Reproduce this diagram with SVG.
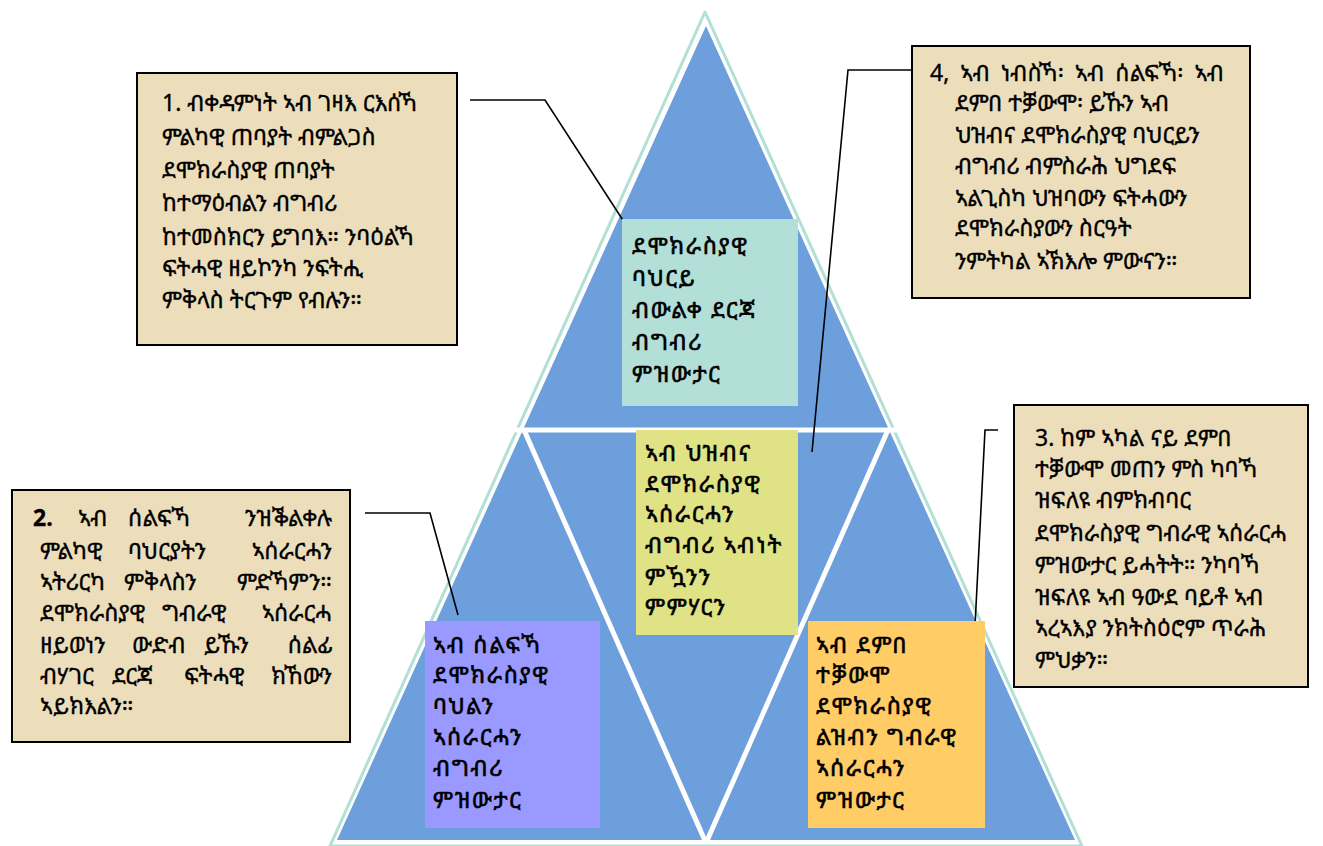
<svg xmlns="http://www.w3.org/2000/svg" width="1323" height="846" viewBox="0 0 1323 846">
<style>
.t{font-family:"Noto Sans Ethiopic","Abyssinica SIL","DejaVu Sans","Noto Sans",sans-serif;font-size:23px;fill:#000;stroke:#000;stroke-width:0.35}
.c{font-size:23px;letter-spacing:1.6px;stroke-width:0.6}
.note{fill:#ecdebb;stroke:#000;stroke-width:2}
.wl{stroke:#fff;stroke-width:5;fill:none}
.con{stroke:#000;stroke-width:1.6;fill:none}
</style>
<rect width="1323" height="846" fill="#fff"/>
<g id="pyramid">
<polygon points="705,12 330,846 1082,846" fill="none" stroke="#b3e0d6" stroke-width="3" stroke-linejoin="round"/>
<polygon points="706,26 337,840 1075,840" fill="#6c9fdb"/>
<line class="wl" x1="500" y1="430" x2="912" y2="430"/>
<line class="wl" x1="524" y1="430" x2="706" y2="843"/>
<line class="wl" x1="888" y1="430" x2="706" y2="843"/>
</g>
<g id="connectors">
<polyline class="con" points="470,100 545,100 628,228"/>
<polyline class="con" points="912,70 848,70 812,452"/>
<polyline class="con" points="998,430 985,430 975,626"/>
<polyline class="con" points="365,513 430,513 458,615"/>
</g>
<g id="top">
<rect x="622" y="219" width="176" height="187" fill="#b2dfd7"/>
<text class="t c" x="632" y="254">ደሞክራስያዊ</text>
<text class="t c" x="632" y="286">ባህርይ</text>
<text class="t c" x="632" y="318">ብውልቀ ደርጃ</text>
<text class="t c" x="632" y="350">ብግብሪ</text>
<text class="t c" x="632" y="382">ምዝውታር</text>
</g>
<g id="middle">
<rect x="636" y="430" width="162" height="205" fill="#dfe285"/>
<text class="t c" x="645" y="461">ኣብ ህዝብና</text>
<text class="t c" x="645" y="492">ደሞክራስያዊ</text>
<text class="t c" x="645" y="522">ኣሰራርሓን</text>
<text class="t c" x="645" y="553">ብግብሪ ኣብነት</text>
<text class="t c" x="645" y="585">ምዃንን</text>
<text class="t c" x="645" y="615">ምምሃርን</text>
</g>
<g id="left-inner">
<rect x="425" y="621" width="175" height="207" fill="#9999ff"/>
<text class="t c" x="433" y="653">ኣብ ሰልፍኻ</text>
<text class="t c" x="433" y="683">ደሞክራስያዊ</text>
<text class="t c" x="433" y="714">ባህልን</text>
<text class="t c" x="433" y="745">ኣሰራርሓን</text>
<text class="t c" x="433" y="776">ብግብሪ</text>
<text class="t c" x="433" y="808">ምዝውታር</text>
</g>
<g id="right-inner">
<rect x="808" y="621" width="177" height="207" fill="#ffcc66"/>
<text class="t c" x="816" y="653">ኣብ ደምበ</text>
<text class="t c" x="816" y="683">ተቓውሞ</text>
<text class="t c" x="816" y="714">ደሞክራስያዊ</text>
<text class="t c" x="816" y="745">ልዝብን ግብራዊ</text>
<text class="t c" x="816" y="776">ኣሰራርሓን</text>
<text class="t c" x="816" y="808">ምዝውታር</text>
</g>
<g id="note1">
<rect class="note" x="137" y="73" width="320" height="272"/>
<text class="t" x="162" y="111">1. ብቀዳምነት ኣብ ገዛእ ርእሰኻ</text>
<text class="t" x="162" y="145">ምልካዊ ጠባያት ብምልጋስ</text>
<text class="t" x="162" y="178">ደሞክራስያዊ ጠባያት</text>
<text class="t" x="162" y="211">ከተማዕብልን ብግብሪ</text>
<text class="t" x="162" y="245">ከተመስክርን ይግባእ። ንባዕልኻ</text>
<text class="t" x="162" y="276">ፍትሓዊ ዘይኮንካ ንፍትሒ</text>
<text class="t" x="162" y="308">ምቅላስ ትርጉም የብሉን።</text>
</g>
<g id="note4">
<rect class="note" x="912" y="46" width="338" height="252"/>
<text class="t" x="930" y="81" word-spacing="5">4, ኣብ ነብስኻ፡ ኣብ ሰልፍኻ፡ ኣብ</text>
<text class="t" x="955" y="111">ደምበ ተቓውሞ፡ ይኹን ኣብ</text>
<text class="t" x="955" y="143">ህዝብና ደሞክራስያዊ ባህርይን</text>
<text class="t" x="955" y="174">ብግብሪ ብምስራሕ ህግደፍ</text>
<text class="t" x="955" y="206">ኣልጊስካ ህዝባውን ፍትሓውን</text>
<text class="t" x="955" y="236">ደሞክራስያውን ስርዓት</text>
<text class="t" x="955" y="269">ንምትካል ኣኽእሎ ምውናን።</text>
</g>
<g id="note3">
<rect class="note" x="1014" y="405" width="294" height="282"/>
<text class="t" x="1035" y="446">3. ከም ኣካል ናይ ደምበ</text>
<text class="t" x="1035" y="477">ተቓውሞ መጠን ምስ ካባኻ</text>
<text class="t" x="1035" y="508">ዝፍለዩ ብምክብባር</text>
<text class="t" x="1035" y="541">ደሞክራስያዊ ግብራዊ ኣሰራርሓ</text>
<text class="t" x="1035" y="573">ምዝውታር ይሓትት። ንካባኻ</text>
<text class="t" x="1035" y="605">ዝፍለዩ ኣብ ዓውደ ባይቶ ኣብ</text>
<text class="t" x="1035" y="636">ኣረኣእያ ንክትስዕሮም ጥራሕ</text>
<text class="t" x="1035" y="668">ምህቃን።</text>
</g>
<g id="note2">
<rect class="note" x="12" y="490" width="338" height="252"/>
<text class="t" x="33" y="526" font-weight="bold">2.</text>
<text class="t" x="78" y="526">ኣብ</text>
<text class="t" x="128" y="526">ሰልፍኻ</text>
<text class="t" x="332" y="526" text-anchor="end">ንዝቕልቀሉ</text>
<text class="t" x="40" y="559">ምልካዊ</text>
<text class="t" x="128" y="559">ባህርያትን</text>
<text class="t" x="332" y="559" text-anchor="end">ኣሰራርሓን</text>
<text class="t" x="40" y="590">ኣትሪርካ</text>
<text class="t" x="124" y="590">ምቅላስን</text>
<text class="t" x="332" y="590" text-anchor="end">ምድኻምን።</text>
<text class="t" x="40" y="621">ደሞክራስያዊ</text>
<text class="t" x="162" y="621">ግብራዊ</text>
<text class="t" x="332" y="621" text-anchor="end">ኣሰራርሓ</text>
<text class="t" x="40" y="653">ዘይወነን</text>
<text class="t" x="132" y="653">ውድብ</text>
<text class="t" x="204" y="653">ይኹን</text>
<text class="t" x="332" y="653" text-anchor="end">ሰልፊ</text>
<text class="t" x="40" y="684">ብሃገር</text>
<text class="t" x="112" y="684">ደርጃ</text>
<text class="t" x="184" y="684">ፍትሓዊ</text>
<text class="t" x="332" y="684" text-anchor="end">ክኸውን</text>
<text class="t" x="40" y="714">ኣይክእልን።</text>
</g>
</svg>
